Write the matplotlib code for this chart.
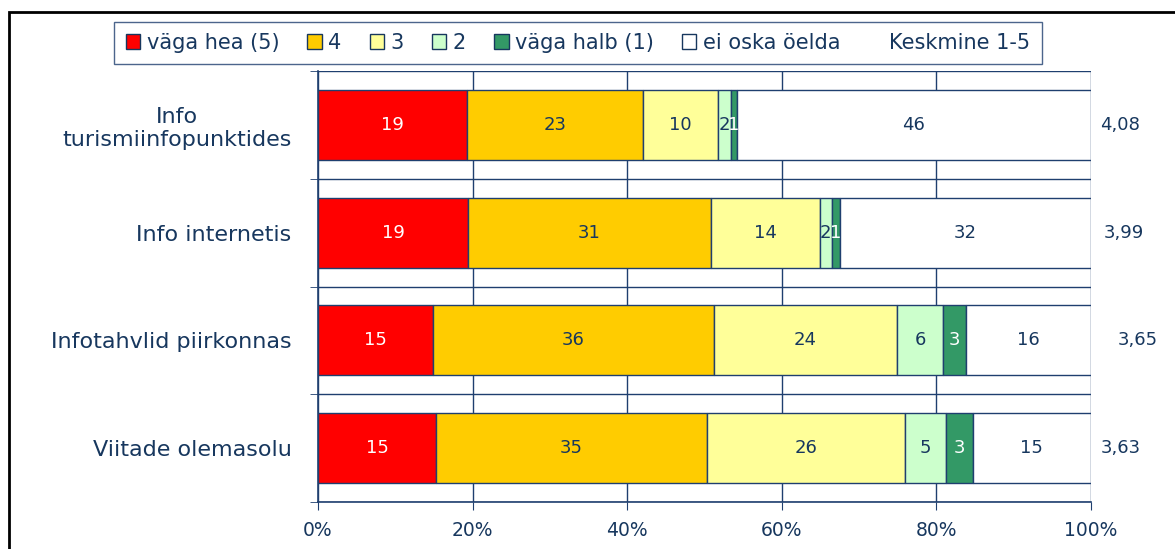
import matplotlib
matplotlib.use("Agg")
import matplotlib.pyplot as plt
from matplotlib.patches import Patch, Rectangle
import numpy as np

categories = ["Info\nturismiinfopunktides", "Info internetis", "Infotahvlid piirkonnas", "Viitade olemasolu"]
series_names = ["väga hea (5)", "4", "3", "2", "väga halb (1)", "ei oska öelda"]
v5 = [19.3, 19.4, 14.9, 15.3]
v4 = [22.7, 31.4, 36.3, 35.0]
v3 = [9.7, 14.1, 23.7, 25.6]
v2 = [1.7, 1.6, 6.0, 5.4]
v1 = [0.8, 1.0, 2.9, 3.4]
v0 = [45.8, 32.45, 16.2, 15.3]
averages = [4.08, 3.99, 3.65, 3.63]
avg_label = "Keskmine 1-5"
xticks = [0, 20, 40, 60, 80, 100]

colors = ["#FF0000", "#FFCC00", "#FFFF99", "#CCFFCC", "#339966", "#FFFFFF"]
label_colors = ["white", "#17375E", "#17375E", "#17375E", "white", "#17375E"]
navy = "#17375E"
linec = "#1F3F6F"

plt.rcParams['font.family'] = ['DejaVu Sans']

fig = plt.figure(figsize=(11.75, 5.49), dpi=100)
ax = fig.add_axes([318/1175, 1-502/549, (1091-318)/1175, (502-71)/549])

series = [v5, v4, v3, v2, v1, v0]
y = np.arange(len(categories))
left = np.zeros(len(categories))
for s, vals in enumerate(series):
    vals = np.array(vals, dtype=float)
    ax.barh(y, vals, left=left, height=0.65, color=colors[s], edgecolor=linec,
            linewidth=1.0, zorder=3)
    for i, v in enumerate(vals):
        ax.text(left[i] + v/2, y[i], f"{v:.0f}", ha="center", va="center",
                color=label_colors[s], fontsize=13, zorder=4)
    left += vals

ax.set_xlim(0, 100)
ax.set_ylim(len(categories) - 0.5, -0.5)
ax.set_xticks(xticks)
ax.set_xticklabels([f"{t}%" for t in xticks], fontsize=13.5, color=navy)
ax.set_yticks(y)
ax.set_yticklabels(categories, fontsize=16, color=navy)
for lab in ax.get_yticklabels():
    lab.set_multialignment("center")
ax.tick_params(axis="y", which="major", length=0, pad=19)
ax.set_yticks(np.arange(-0.5, len(categories)), minor=True)
ax.tick_params(axis="y", which="minor", length=6, color=linec, direction="out")
ax.tick_params(axis="x", which="major", length=6, color=linec, direction="out", pad=8)

ax.grid(axis="x", which="major", color=linec, linewidth=1.0, zorder=0)
ax.grid(axis="y", which="minor", color=linec, linewidth=1.0, zorder=0)
for sp in ["top", "right"]:
    ax.spines[sp].set_visible(False)
for sp in ["left", "bottom"]:
    ax.spines[sp].set_color(linec)
    ax.spines[sp].set_linewidth(1.2)

avg_x = [101.2, 101.7, 103.4, 101.2]
for i, a in enumerate(averages):
    ax.text(avg_x[i], y[i], f"{a:.2f}".replace(".", ","), ha="left", va="center",
            fontsize=13, color=navy, clip_on=False)

handles = [Patch(facecolor=colors[k], edgecolor=navy, linewidth=1.0) for k in range(6)]
handles.append(Patch(facecolor="none", edgecolor="none"))
labels = series_names + [avg_label]
leg = fig.legend(handles, labels, loc="center", bbox_to_anchor=((115+1041)/2/1175, 1-43/549),
                 ncol=7, fontsize=15, frameon=True, fancybox=False, shadow=False,
                 handlelength=0.7, handleheight=0.7, handletextpad=0.3, columnspacing=1.35,
                 borderpad=0.55, labelcolor=navy)
leg.get_frame().set_edgecolor(linec)
leg.get_frame().set_linewidth(1.0)

fig.patches.append(Rectangle((9/1175, -0.1), 1.2, 1.1 - 12/549, transform=fig.transFigure,
                             fill=False, edgecolor="black", linewidth=2.0))

fig.savefig("out.png", dpi=100)
